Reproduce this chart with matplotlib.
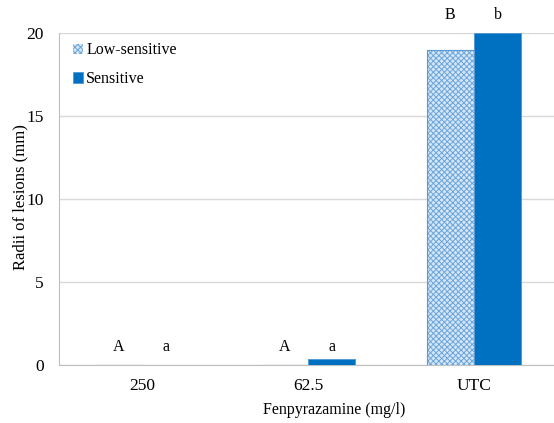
import numpy as np
import matplotlib
matplotlib.use("Agg")
import matplotlib.pyplot as plt

plt.rcParams['font.family'] = ['Liberation Serif', 'DejaVu Serif']
plt.rcParams['hatch.linewidth'] = 0.7

categories = ['250', '62.5', 'UTC']
low_sensitive = [0, 0, 19]
sensitive = [0, 0.35, 20]
low_letters = ['A', 'A', 'B']
sens_letters = ['a', 'a', 'b']

fig = plt.figure(figsize=(5.54, 4.23), dpi=100)
ax = fig.add_axes([59/554, 58/423, 498/554, 332/423])

x = np.arange(len(categories))
w = 0.285
ax.bar(x - w/2, low_sensitive, w, facecolor='#d6e6f6', edgecolor='#6aa5dc',
       hatch='xxxxxx', linewidth=0.0, label='Low-sensitive', zorder=3)
ax.bar(x - w/2, low_sensitive, w, facecolor='none', edgecolor='#5b9bd5',
       linewidth=0.8, zorder=4)
ax.bar(x + w/2, sensitive, w, color='#0070c0', edgecolor='#4d97d4',
       linewidth=0.6, label='Sensitive', zorder=3)

for i in range(len(categories)):
    ly, sy = 0.6, 0.6
    if low_sensitive[i] > 0:
        ly = 20.6
        sy = 20.6
    ax.text(x[i] - w/2, ly, low_letters[i], ha='center', va='bottom', fontsize=11.5)
    ax.text(x[i] + w/2, sy, sens_letters[i], ha='center', va='bottom', fontsize=11.5)

ax.set_xlim(-0.5, 2.5)
ax.set_ylim(0, 20)
ax.set_yticks([0, 5, 10, 15, 20])
ax.set_xticks(x)
ax.set_xticklabels(categories)
ax.tick_params(length=0, labelsize=12.5)
ax.tick_params(axis='y', pad=11)
ax.tick_params(axis='x', pad=9)
ax.yaxis.grid(True, color='#d9d9d9', linewidth=1)
ax.set_axisbelow(True)
for s in ['top', 'right']:
    ax.spines[s].set_visible(False)
for s in ['left', 'bottom']:
    ax.spines[s].set_color('#bfbfbf')
fig.text(20/554, 1 - 197/423, 'Radii of lesions (mm)', rotation=90,
         ha='center', va='center', fontsize=12)
fig.text(334/554, 1 - 410/423, 'Fenpyrazamine (mg/l)', ha='center', va='center', fontsize=11.5)

ax.legend(loc='upper left', bbox_to_anchor=(0.0, 1.015), frameon=False, fontsize=11.5,
          handlelength=0.6, handleheight=0.6, handletextpad=0.2, labelspacing=0.8)

fig.savefig('out.png', dpi=100)
